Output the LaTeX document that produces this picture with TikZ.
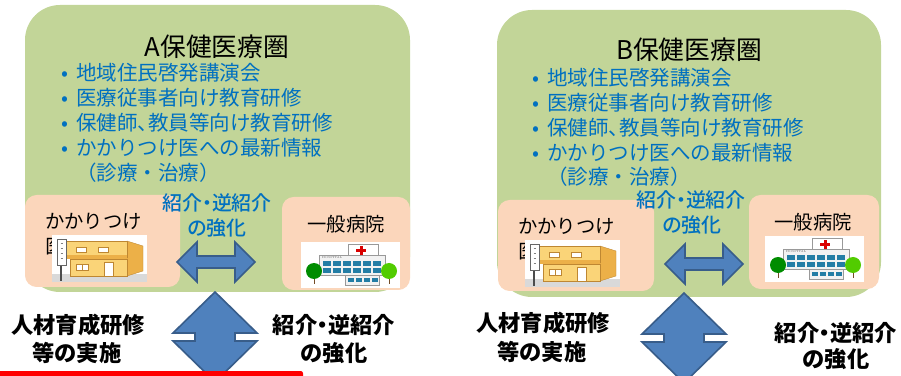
\documentclass[tikz,border=0pt]{standalone}
\usepackage{fontspec}
\newfontfamily\jp{Noto Sans CJK JP}
\newfontfamily\jpp[RawFeature=+palt]{Noto Sans CJK JP}
\newfontfamily\jpm[RawFeature=+palt]{Noto Sans CJK JP Medium}

\definecolor{areagreen}{RGB}{194,213,152}
\definecolor{peach}{RGB}{251,214,187}
\definecolor{itemblue}{RGB}{0,112,192}
\definecolor{arrowfill}{RGB}{79,129,189}
\definecolor{arrowedge}{RGB}{56,93,138}
\definecolor{wallfront}{RGB}{250,212,120}
\definecolor{wallside}{RGB}{236,176,72}
\definecolor{wallline}{RGB}{190,135,50}
\definecolor{winblue}{RGB}{35,125,165}

\newcommand{\itemdot}{\llap{•\hspace{7pt}}}

% clinic icon, 95x47 from its top left corner
\newcommand{\clinicicon}{
	\fill[white] (0,0) rectangle (95,47);
	\fill[black!15] (0,39) rectangle (95,47); % ground
	\filldraw[fill=wallside, draw=wallline, line width=0.3pt] (75,6) -- (91,11) -- (91,36) -- (75,41) -- cycle;
	\filldraw[fill=wallfront, draw=wallline, line width=0.3pt] (13,6) rectangle (75,22);
	\fill[wallside] (13,20) rectangle (75,24); % floor band
	\filldraw[fill=wallfront, draw=wallline, line width=0.3pt] (18,24) rectangle (75,41);
	\filldraw[fill=white, draw=wallline, line width=0.3pt] (24,12) rectangle (34,17);
	\filldraw[fill=white, draw=wallline, line width=0.3pt] (46,12) rectangle (56,17);
	\filldraw[fill=white, draw=wallline, line width=0.3pt] (24,29) rectangle (36,35);
	\draw[wallline, line width=0.3pt] (30,29) -- (30,35);
	\filldraw[fill=white, draw=wallline, line width=0.3pt] (52,27) rectangle (61,41); % door
	% sign board
	\draw[black!70, line width=1pt] (9,4) -- (9,46);
	\filldraw[fill=white, draw=black!60, line width=0.3pt] (5,4) rectangle (14,30);
	\foreach \k in {8,13,...,26}
	{
		\draw[black!50, line width=0.4pt] (8.5,\k) -- (10.5,\k);
	}
}

% hospital icon, 99x46 from its top left corner
\newcommand{\hospitalicon}{
	\fill[white] (0,0) rectangle (99,46);
	\filldraw[fill=white, draw=black!40, line width=0.3pt] (47,2) rectangle (77,16);
	\fill[red!85!black] (58.5,4) rectangle (61.5,14);
	\fill[red!85!black] (55,7.5) rectangle (65,10.5);
	\filldraw[fill=black!5, draw=black!40, line width=0.3pt] (18,13) rectangle (84,33);
	\node[font=\fontsize{2.5}{3}\selectfont, text=black!60, inner sep=0pt, anchor=west] (hosptag) at (21,15.5) {HOSPITAL};
	\foreach \c in {0,...,5}
	{
		\fill[winblue] (22+10*\c,19) rectangle (30+10*\c,24);
		\fill[winblue] (22+10*\c,26) rectangle (30+10*\c,31);
	}
	\filldraw[fill=black!5, draw=black!40, line width=0.3pt] (44,33) rectangle (78,43);
	\foreach \c in {0,...,3}
	{
		\fill[winblue] (47+8*\c,36) rectangle (53+8*\c,40);
	}
	% trees
	\draw[brown!60!black, line width=0.8pt] (13,30) -- (13,42);
	\fill[green!55!black] (13,29) circle (0.24cm);
	\draw[brown!60!black, line width=0.8pt] (88,30) -- (88,42);
	\fill[green!60!yellow!80!black] (88,29) circle (0.24cm);
}

% left-right block arrow centred at #1
\newcommand{\sidearrow}[1]{
	\draw[blockarrow, shift={#1}] (-39,0) -- (-19,-20) -- (-19,-6) -- (19,-6) -- (19,-20) -- (39,0)
		-- (19,20) -- (19,6) -- (-19,6) -- (-19,20) -- cycle;
}
% up-down block arrow with its top tip at #1
\newcommand{\vertarrow}[1]{
	\draw[blockarrow, shift={#1}] (0,0) -- (42,41) -- (20,41) -- (20,49) -- (42,49) -- (0,90)
		-- (-42,49) -- (-20,49) -- (-20,41) -- (-42,41) -- cycle;
}

\begin{document}
\begin{tikzpicture}[x=0.03cm, y=-0.03cm]
	\tikzset{
		area/.style={fill=areagreen, rounded corners=1.05cm},
		unit/.style={fill=peach, rounded corners=0.35cm},
		heading/.style={font=\jp\fontsize{22}{26}\selectfont, inner sep=0pt},
		item/.style={font=\jp\fontsize{17.5}{20}\selectfont, text=itemblue, anchor=west, inner sep=0pt},
		link/.style={font=\jpm\fontsize{17}{20}\selectfont, text=itemblue, inner sep=0pt},
		place/.style={font=\jp\fontsize{16.5}{20}\selectfont, inner sep=0pt},
		note/.style={font=\jpp\bfseries\fontsize{19}{22}\selectfont, inner sep=0pt},
		blockarrow/.style={fill=arrowfill, draw=arrowedge, line width=1.4pt, line join=miter}
	}
	\clip (0,0) rectangle (901,376);
	
	% ---------- A ----------
	\fill[area] (25,5) rectangle (410,292);
	\fill[unit] (25,195) rectangle (180,287);
	\fill[unit] (282,197) rectangle (410,290);
	
	\node[heading] (titleA) at (217,47) {A保健医療圏};
	\foreach \txt [count=\i] in {地域住民啓発講演会, 医療従事者向け教育研修, 保健師{\jpp 、}教員等向け教育研修, かかりつけ医への最新情報}
	{
		\node[item] (itemA\i) at (76,48+25*\i) {\itemdot\txt};
	}
	\node[item] (itemA5) at (76,173) {（診療・治療）};
	
	\node[link] (linkA1) at (217,203) {紹介・逆紹介};
	\node[link] (linkA2) at (217,228) {の強化};
	
	\node[place, anchor=west] (clinicA1) at (45,221) {かかりつけ};
	\node[place, anchor=west] (clinicA2) at (45,247) {医};
	\node[place] (hospA) at (346,224) {一般病院};
	
	\begin{scope}[shift={(52,235)}]
		\clinicicon
	\end{scope}
	\begin{scope}[shift={(301,242)}]
		\hospitalicon
	\end{scope}
	
	\sidearrow{(216,262)}
	\vertarrow{(215,292)}
	
	\node[note] (trainA1) at (78,325) {人材育成研修};
	\node[note] (trainA2) at (77,353) {等の実施};
	\node[note] (referA1) at (334,325) {紹介・逆紹介};
	\node[note] (referA2) at (334,353) {の強化};
	
	\fill[red, rounded corners=2pt] (-10,371) rectangle (303,381);
	
	% ---------- B ----------
	\fill[area] (497,10) rectangle (881,297);
	\fill[unit] (498,200) rectangle (654,291);
	\fill[unit] (749,195) rectangle (879,289);
	
	\node[heading] (titleB) at (689,50) {B保健医療圏};
	\foreach \txt [count=\i] in {地域住民啓発講演会, 医療従事者向け教育研修, 保健師{\jpp 、}教員等向け教育研修, かかりつけ医への最新情報}
	{
		\node[item] (itemB\i) at (547,53+25*\i) {\itemdot\txt};
	}
	\node[item] (itemB5) at (547,177) {（診療・治療）};
	
	\node[link] (linkB1) at (691,200) {紹介・逆紹介};
	\node[link] (linkB2) at (692,225) {の強化};
	
	\node[place, anchor=west] (clinicB1) at (518,226) {かかりつけ};
	\node[place, anchor=west] (clinicB2) at (518,252) {医};
	\node[place] (hospB) at (813,222) {一般病院};
	
	\begin{scope}[shift={(525,240)}]
		\clinicicon
	\end{scope}
	\begin{scope}[shift={(765,236)}]
		\hospitalicon
	\end{scope}
	
	\sidearrow{(704,264)}
	\vertarrow{(684,293)}
	
	\node[note] (trainB1) at (543,323) {人材育成研修};
	\node[note] (trainB2) at (542,352) {等の実施};
	\node[note] (referB1) at (836,333) {紹介・逆紹介};
	\node[note] (referB2) at (836,359) {の強化};
\end{tikzpicture}
\end{document}
